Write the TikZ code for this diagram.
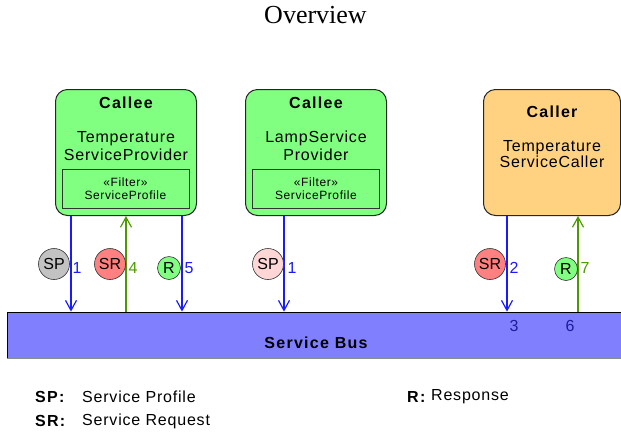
\documentclass[tikz,border=0pt]{standalone}
\usepackage{fontspec}
\setmainfont{Liberation Sans}
\newfontfamily\titlefont{Liberation Serif}
\newfontfamily\plainfont[LetterSpace=5]{Liberation Sans}
\newfontfamily\strongfont[LetterSpace=8]{Liberation Sans Bold}
\usetikzlibrary{arrows.meta,positioning}

\definecolor{calleegreen}{HTML}{80FF80}
\definecolor{callerorange}{HTML}{FFD282}
\definecolor{busblue}{HTML}{8080FF}
\definecolor{msgblue}{HTML}{1A1AFF}
\definecolor{msggreen}{HTML}{4D9A00}
\definecolor{busnum}{HTML}{1C1C9C}
\definecolor{srred}{HTML}{FF8080}
\definecolor{spgray}{HTML}{C2C2C2}
\definecolor{sppink}{HTML}{FFD6D6}

\begin{document}
\begin{tikzpicture}[x=1pt, y=-1pt,
  component/.style={
    draw=black!85, line width=1pt, rounded corners=12pt,
    minimum width=#1, minimum height=126pt
  },
  filterbox/.style={
    draw=black!80, line width=1pt, fill=calleegreen,
    minimum width=127pt, minimum height=39pt, inner sep=0pt,
    align=center, font=\plainfont\fontsize{12}{12.5}\selectfont
  },
  role/.style={font=\strongfont\fontsize{16}{18}\selectfont},
  boxtext/.style={align=center, font=\plainfont\fontsize{16}{#1}\selectfont},
  msg/.style={line width=1.2pt, -{Straight Barb[length=10pt,width=11pt]}},
  msgtag/.style={
    circle, draw=black!80, line width=0.6pt, inner sep=0pt,
    minimum size=#1, font=\fontsize{16}{18}\selectfont
  },
  msgnum/.style={inner sep=0pt, font=\fontsize{16}{18}\selectfont},
  legendkey/.style={anchor=west, inner sep=0pt, font=\strongfont\fontsize{16}{18}\selectfont},
  legendtext/.style={anchor=west, inner sep=0pt, font=\plainfont\fontsize{16}{18}\selectfont}
  ]

\useasboundingbox (0,0) rectangle (621,432);

% title
\node[font=\titlefont\fontsize{26}{28}\selectfont, inner sep=0pt] (title) at (315.5,15.5) {Overview};

% service bus
\node[draw=black, line width=0.8pt, fill=busblue, minimum width=618pt,
  minimum height=46pt, inner sep=0pt] (bus) at (316,335) {};
\draw[black!45, line width=0.8pt] (bus.south west) -- (bus.south east);
\node[role] (buslabel) at (316,342.5) {Service Bus};

% callee: temperature provider
\node[component=141pt, fill=calleegreen] (p0) at (126,152.5) {};
\node[role] (p0role) at (126,102.5) {Callee};
\node[boxtext=18] (p0name) at (126,146) {Temperature\\ServiceProvider};
\node[filterbox] (p0filter) at (125.5,188.5) {«Filter»\\ServiceProfile};

% callee: lamp provider
\node[component=141pt, fill=calleegreen] (p1) at (316,152.5) {};
\node[role] (p1role) at (316,102.5) {Callee};
\node[boxtext=18] (p1name) at (316,146) {LampService\\Provider};
\node[filterbox] (p1filter) at (316,188.5) {«Filter»\\ServiceProfile};

% caller
\node[component=137pt, fill=callerorange] (c0) at (552,152.5) {};
\node[role] (c0role) at (552,111.5) {Caller};
\node[boxtext=16.5] (c0name) at (552,154) {Temperature\\ServiceCaller};

% message lanes
\coordinate (x1) at (71,0);
\coordinate (x2) at (126,0);
\coordinate (x3) at (182,0);
\coordinate (x4) at (284,0);
\coordinate (x5) at (507,0);
\coordinate (x6) at (578,0);

\draw[msg, msgblue] (p0.south -| x1) -- (bus.north -| x1);
\draw[msg, msggreen] (bus.north -| x2) -- (p0.south -| x2);
\draw[msg, msgblue] (p0.south -| x3) -- (bus.north -| x3);
\draw[msg, msgblue] (p1.south -| x4) -- (bus.north -| x4);
\draw[msg, msgblue] (c0.south -| x5) -- (bus.north -| x5);
\draw[msg, msggreen] (bus.north -| x6) -- (c0.south -| x6);

% message tags and step numbers
\node[msgtag=31pt, fill=spgray] (sp0) at (54,264) {SP};
\node[msgnum, text=msgblue] (n1a) at (77,268) {1};
\node[msgtag=31pt, fill=srred] (sr0) at (110,264) {SR};
\node[msgnum, text=msggreen] (n4) at (133,268) {4};
\node[msgtag=23pt, fill=calleegreen] (r0) at (169,268) {R};
\node[msgnum, text=msgblue] (n5) at (189,268) {5};
\node[msgtag=31pt, fill=sppink] (sp1) at (268,264) {SP};
\node[msgnum, text=msgblue] (n1b) at (292,268) {1};
\node[msgtag=31pt, fill=srred] (sr1) at (490,264) {SR};
\node[msgnum, text=msgblue] (n2) at (514,268) {2};
\node[msgtag=23pt, fill=calleegreen] (r1) at (566,269) {R};
\node[msgnum, text=msggreen] (n7) at (585,268) {7};
\node[msgnum, text=busnum] (n3) at (514,326) {3};
\node[msgnum, text=busnum] (n6) at (570,326) {6};

% legend
\node[legendkey] (spkey) at (35,397) {SP:};
\node[legendtext] (sptext) at (82,397) {Service Profile};
\node[legendkey] (srkey) at (35,421) {SR:};
\node[legendtext] (srtext) at (82,421) {Service Request};
\node[legendkey] (rkey) at (407,397) {R:};
\node[legendtext] (rtext) at (431,397) {Response};

\end{tikzpicture}
\end{document}
